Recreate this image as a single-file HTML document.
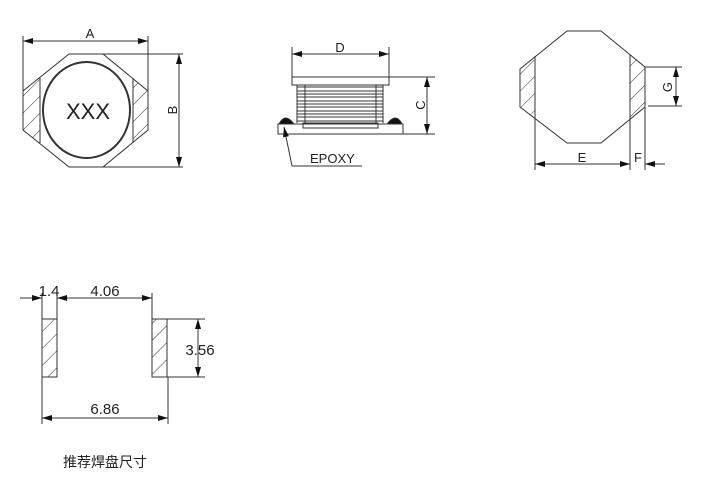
<!DOCTYPE html>
<html><head><meta charset="utf-8"><style>
html,body{margin:0;padding:0;background:#fff;}
svg{display:block;}
text{font-family:"Liberation Sans","Noto Sans CJK SC",sans-serif;fill:#222;}
</style></head><body>
<svg width="709" height="498" viewBox="0 0 709 498" xmlns="http://www.w3.org/2000/svg">
<defs>
<pattern id="h" patternUnits="userSpaceOnUse" width="12" height="12" patternTransform="rotate(45)">
<line x1="0" y1="0" x2="0" y2="12" stroke="#333" stroke-width="1"/>
</pattern>
<marker id="ar" markerWidth="10" markerHeight="6" refX="10" refY="3" orient="auto-start-reverse" markerUnits="userSpaceOnUse">
<path d="M0,0 L10,3 L0,6 z" fill="#111"/></marker>
</defs>
<g stroke="#333" stroke-width="1" fill="none">
<!-- Fig1 -->
<polygon points="23,91 40,78 40,143 23,130" fill="url(#h)" stroke="none"/>
<polygon points="133,78 148,91 148,130 133,143" fill="url(#h)" stroke="none"/>
<polygon points="69,54 103,54 148,91 148,130 103,167 69,167 23,130 23,91"/>
<line x1="40" y1="78" x2="40" y2="143"/>
<line x1="133" y1="78" x2="133" y2="143"/>
<ellipse cx="86.5" cy="110" rx="43.5" ry="48" stroke-width="2"/>
<line x1="23" y1="36" x2="23" y2="91"/>
<line x1="148" y1="36" x2="148" y2="91"/>
<line x1="23" y1="41" x2="148" y2="41" marker-start="url(#ar)" marker-end="url(#ar)"/>
<line x1="103" y1="54" x2="183" y2="54"/>
<line x1="103" y1="167" x2="183" y2="167"/>
<line x1="179" y1="54" x2="179" y2="167" marker-start="url(#ar)" marker-end="url(#ar)"/>
<!-- Fig2 -->
<rect x="292" y="77" width="97" height="8"/>
<path d="M297,85 L297,123 M383,85 L383,123"/>
<path d="M305,85 L305,123 M376,85 L376,123"/>
<path d="M297,87H383M297,91H383M297,94H383M297,97H383M297,101H383M297,104H383M297,107H383M297,111H383M297,114H383M297,117H383M297,121H383"/>
<rect x="303" y="123" width="75" height="5"/>
<rect x="278" y="124" width="125" height="10"/>
<path d="M279,124 Q285,112 294,124 Z" fill="#111"/>
<path d="M387,124 Q396,112 402,124 Z" fill="#111"/>
<line x1="292" y1="47" x2="292" y2="77"/>
<line x1="389" y1="47" x2="389" y2="77"/>
<line x1="292" y1="54" x2="389" y2="54" marker-start="url(#ar)" marker-end="url(#ar)"/>
<line x1="389" y1="77" x2="435" y2="77"/>
<line x1="403" y1="134" x2="435" y2="134"/>
<line x1="427" y1="77" x2="427" y2="134" marker-start="url(#ar)" marker-end="url(#ar)"/>
<polyline points="362,166 292,166"/>
<line x1="292" y1="166" x2="284" y2="127" marker-end="url(#ar)"/>
<!-- Fig3 -->
<polygon points="520,69 535,56 535,120 520,107" fill="url(#h)" stroke="none"/>
<polygon points="630,55 645,67 645,107 630,119" fill="url(#h)" stroke="none"/>
<polygon points="567,31 601,31 645,67 645,107 601,143 567,143 520,107 520,69"/>
<line x1="535" y1="56" x2="535" y2="170"/>
<line x1="630" y1="55" x2="630" y2="170"/>
<line x1="645" y1="107" x2="645" y2="170"/>
<line x1="535" y1="164" x2="630" y2="164" marker-start="url(#ar)" marker-end="url(#ar)"/>
<line x1="665" y1="164" x2="645" y2="164" marker-end="url(#ar)"/>
<line x1="645" y1="67" x2="682" y2="67"/>
<line x1="648" y1="106" x2="682" y2="106"/>
<line x1="676" y1="67" x2="676" y2="106" marker-start="url(#ar)" marker-end="url(#ar)"/>
<!-- Fig4 -->
<rect x="42" y="319" width="15" height="58" fill="url(#h)"/>
<rect x="152" y="319" width="15" height="58" fill="url(#h)"/>
<line x1="42" y1="293" x2="42" y2="319"/>
<line x1="57" y1="293" x2="57" y2="319"/>
<line x1="152" y1="293" x2="152" y2="319"/>
<line x1="20" y1="298" x2="42" y2="298" marker-end="url(#ar)"/>
<line x1="57" y1="298" x2="152" y2="298" marker-start="url(#ar)" marker-end="url(#ar)"/>
<line x1="167" y1="319" x2="205" y2="319"/>
<line x1="167" y1="377" x2="205" y2="377"/>
<line x1="198" y1="319" x2="198" y2="377" marker-start="url(#ar)" marker-end="url(#ar)"/>
<line x1="42" y1="377" x2="42" y2="424"/>
<line x1="168" y1="377" x2="168" y2="424"/>
<line x1="42" y1="418" x2="168" y2="418" marker-start="url(#ar)" marker-end="url(#ar)"/>
</g>
<g font-size="13">
<text x="90" y="38" text-anchor="middle">A</text>
<text x="340" y="52" text-anchor="middle">D</text>
<text x="582" y="162" text-anchor="middle">E</text>
<text x="638" y="162" text-anchor="middle">F</text>
<text transform="translate(177,110) rotate(-90)" text-anchor="middle">B</text>
<text transform="translate(425,105) rotate(-90)" text-anchor="middle">C</text>
<text transform="translate(672,87) rotate(-90)" text-anchor="middle">G</text>
<text x="310" y="163">EPOXY</text>
</g>
<text x="88" y="119" font-size="22" text-anchor="middle" fill="#444">XXX</text>
<g font-size="15">
<text x="49" y="296" text-anchor="middle">1.4</text>
<text x="105" y="296" text-anchor="middle">4.06</text>
<text x="200" y="355" text-anchor="middle">3.56</text>
<text x="105" y="414" text-anchor="middle">6.86</text>
</g>
<text x="105" y="467" font-size="14" text-anchor="middle" fill="#111">推荐焊盘尺寸</text>
</svg>
</body></html>
